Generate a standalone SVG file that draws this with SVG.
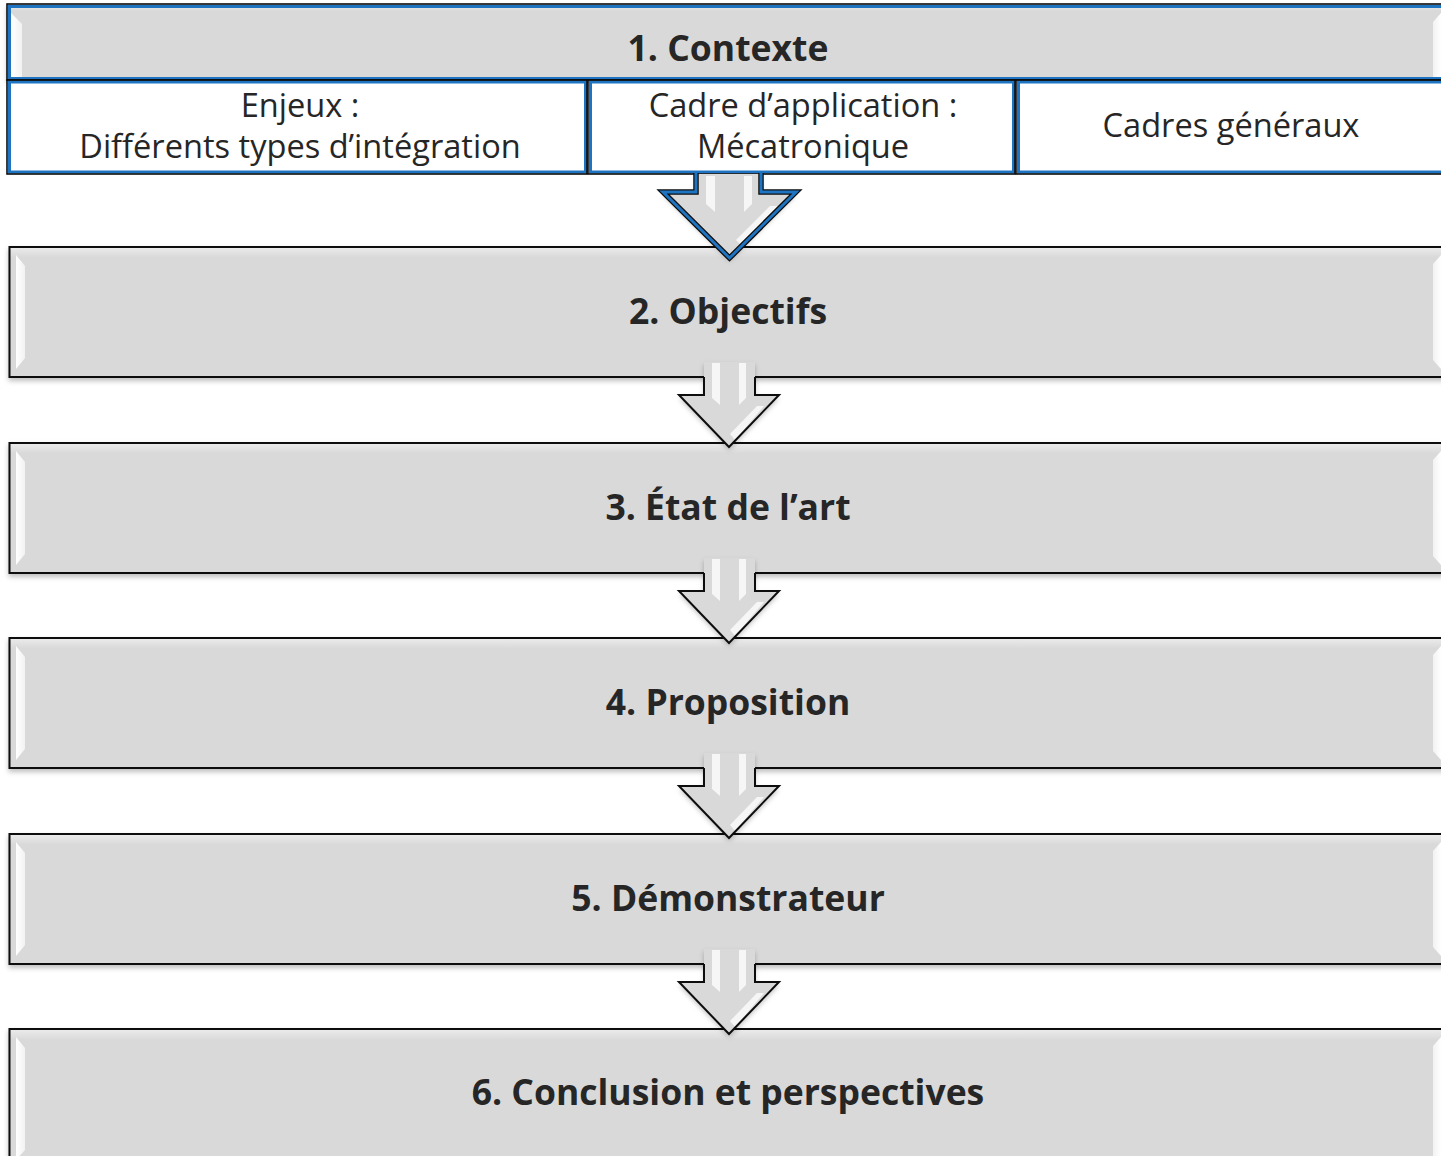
<svg xmlns="http://www.w3.org/2000/svg" width="1441" height="1156" viewBox="0 0 1441 1156">
<defs>
<style>
.bold{font-family:"Open Sans","Liberation Sans",sans-serif;font-weight:700;font-size:35.5px;fill:#262626;text-anchor:middle}
.reg{font-family:"Open Sans","Liberation Sans",sans-serif;font-weight:400;font-size:32.6px;fill:#262626;text-anchor:middle}
.box{fill:url(#gbox);stroke:#0d0d0d;stroke-width:2}
.bev{fill:url(#gbev)}
.bevr{fill:url(#gbevr)}
.cellb{fill:#ffffff;stroke:#1f74c2;stroke-width:3}
.cellk{fill:none;stroke:#0d0d0d;stroke-width:1.6}
.afill{fill:#d9d9d9}
.aline{fill:none;stroke:#0d0d0d;stroke-width:2;stroke-linejoin:miter}
.hl{fill:#ffffff;opacity:0.75}
</style>
<linearGradient id="gbox" x1="0" y1="0" x2="0" y2="1">
<stop offset="0" stop-color="#ececec"/>
<stop offset="0.08" stop-color="#d9d9d9"/>
<stop offset="1" stop-color="#d9d9d9"/>
</linearGradient>
<linearGradient id="gbev" x1="0" y1="0" x2="1" y2="0">
<stop offset="0" stop-color="#ffffff"/>
<stop offset="1" stop-color="#f2f2f2"/>
</linearGradient>
<linearGradient id="gbevr" x1="1" y1="0" x2="0" y2="0">
<stop offset="0" stop-color="#ffffff"/>
<stop offset="1" stop-color="#f2f2f2"/>
</linearGradient>
<filter id="sh" x="-5%" y="-20%" width="110%" height="150%">
<feDropShadow dx="0" dy="3" stdDeviation="2.5" flood-color="#000000" flood-opacity="0.25"/>
</filter>
</defs>
<rect x="0" y="0" width="1441" height="1156" fill="#ffffff"/>

<g id="node1">
<g filter="url(#sh)">
<rect x="7" y="4" width="1445" height="76" fill="#d9d9d9"/>
</g>
<rect x="8" y="5" width="1445" height="75" fill="url(#gbox)"/>
<polygon class="bev" points="11,13 22,24 22,79 11,79"/>
<polygon class="bevr" points="1441,13 1433,22 1433,79 1441,79"/>
<rect x="9.5" y="6.5" width="1445" height="72" fill="none" stroke="#1f74c2" stroke-width="3"/>
<rect x="7" y="4" width="1445" height="76" fill="none" stroke="#0d0d0d" stroke-width="1.6"/>
<text class="bold" x="728" y="61">1. Contexte</text>
<g id="cell1">
<rect class="cellb" x="9.5" y="82" width="576" height="90"/>
<rect class="cellk" x="7" y="80" width="580" height="94"/>
<text class="reg" x="300" y="117">Enjeux :</text>
<text class="reg" x="300" y="158">Différents types d’intégration</text>
</g>
<g id="cell2">
<rect class="cellb" x="590.5" y="82" width="423" height="90"/>
<rect class="cellk" x="588" y="80" width="427" height="94"/>
<text class="reg" x="803" y="117">Cadre d’application :</text>
<text class="reg" x="803" y="158">Mécatronique</text>
</g>
<g id="cell3">
<rect class="cellb" x="1018.5" y="82" width="430" height="90"/>
<rect class="cellk" x="1016" y="80" width="434" height="94"/>
<text class="reg" x="1231" y="137">Cadres généraux</text>
</g>
</g>

<g id="node2">
<rect class="box" x="9.5" y="247" width="1440" height="130" filter="url(#sh)"/>
<polygon class="bev" points="16,255 25,266 25,358 16,369"/>
<polygon class="bevr" points="1441,255 1433,264 1433,360 1441,369"/>
<text class="bold" x="728" y="324">2. Objectifs</text>
</g>
<g id="node3">
<rect class="box" x="9.5" y="443" width="1440" height="130" filter="url(#sh)"/>
<polygon class="bev" points="16,451 25,462 25,554 16,565"/>
<polygon class="bevr" points="1441,451 1433,460 1433,556 1441,565"/>
<text class="bold" x="728" y="520">3. État de l’art</text>
</g>
<g id="node4">
<rect class="box" x="9.5" y="638" width="1440" height="130" filter="url(#sh)"/>
<polygon class="bev" points="16,646 25,657 25,749 16,760"/>
<polygon class="bevr" points="1441,646 1433,655 1433,751 1441,760"/>
<text class="bold" x="728" y="715">4. Proposition</text>
</g>
<g id="node5">
<rect class="box" x="9.5" y="834" width="1440" height="130" filter="url(#sh)"/>
<polygon class="bev" points="16,842 25,853 25,945 16,956"/>
<polygon class="bevr" points="1441,842 1433,851 1433,947 1441,956"/>
<text class="bold" x="728" y="911">5. Démonstrateur</text>
</g>
<g id="node6">
<rect class="box" x="9.5" y="1029" width="1440" height="140" filter="url(#sh)"/>
<polygon class="bev" points="16,1037 25,1048 25,1150 16,1160"/>
<polygon class="bevr" points="1441,1037 1433,1046 1433,1160 1441,1160"/>
<text class="bold" x="728" y="1105">6. Conclusion et perspectives</text>
</g>

<g id="connectors">
<g id="arrow1">
<path class="afill" filter="url(#sh)" d="M696,174 V192 H663 L729.5,258 L796,192 H761 V174 Z"/>
<polygon class="hl" points="706,176 715,176 715,212 706,204"/>
<polygon class="hl" points="744,176 752,176 752,204 744,212"/>
<polygon class="hl" points="770,206 778,206 742,246 736,240"/>
<path d="M696,173 V192 H663 L729.5,258 L796,192 H761 V173" fill="none" stroke="#0d0d0d" stroke-width="5.5" stroke-linejoin="miter"/>
<path d="M696,173 V192 H663 L729.5,258 L796,192 H761 V173" fill="none" stroke="#1f74c2" stroke-width="3" stroke-linejoin="miter"/>
</g>
<g id="arrow2">
<path class="afill" filter="url(#sh)" d="M704,362 V395 H679 L729,447 L779,395 H755 V362 Z"/>
<polygon class="hl" points="712,363 720,363 720,405 712,398"/>
<polygon class="hl" points="739,363 746,363 746,398 739,405"/>
<polygon class="hl" points="757,406 764,406 735,440 730,434"/>
<path class="aline" d="M704,377 V395 H679 L729,447 L779,395 H755 V377"/>
</g>
<g id="arrow3">
<path class="afill" filter="url(#sh)" d="M704,558 V591 H679 L729,643 L779,591 H755 V558 Z"/>
<polygon class="hl" points="712,559 720,559 720,601 712,594"/>
<polygon class="hl" points="739,559 746,559 746,594 739,601"/>
<polygon class="hl" points="757,602 764,602 735,636 730,630"/>
<path class="aline" d="M704,573 V591 H679 L729,643 L779,591 H755 V573"/>
</g>
<g id="arrow4">
<path class="afill" filter="url(#sh)" d="M704,753 V786 H679 L729,838 L779,786 H755 V753 Z"/>
<polygon class="hl" points="712,754 720,754 720,796 712,789"/>
<polygon class="hl" points="739,754 746,754 746,789 739,796"/>
<polygon class="hl" points="757,797 764,797 735,831 730,825"/>
<path class="aline" d="M704,768 V786 H679 L729,838 L779,786 H755 V768"/>
</g>
<g id="arrow5">
<path class="afill" filter="url(#sh)" d="M704,949 V982 H679 L729,1034 L779,982 H755 V949 Z"/>
<polygon class="hl" points="712,950 720,950 720,992 712,985"/>
<polygon class="hl" points="739,950 746,950 746,985 739,992"/>
<polygon class="hl" points="757,993 764,993 735,1027 730,1021"/>
<path class="aline" d="M704,964 V982 H679 L729,1034 L779,982 H755 V964"/>
</g>
</g>
</svg>
